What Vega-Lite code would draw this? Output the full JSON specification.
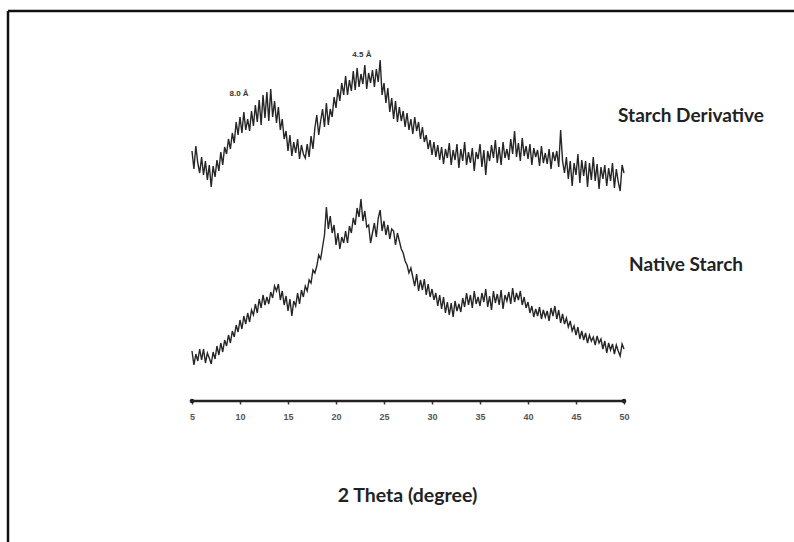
{
  "$schema": "https://vega.github.io/schema/vega-lite/v6.json",
  "width": 786,
  "height": 531,
  "autosize": {"type": "none"},
  "padding": {"left": 8, "top": 11, "right": 0, "bottom": 0},
  "background": "white",
  "config": {"view": {"stroke": null}, "font": "Lato"},
  "resolve": {"axis": {"x": "independent", "y": "independent"}},
  "datasets": {
    "xrd": [
      {"x":5.0,"d":250,"n":50},{"x":5.2,"d":232,"n":36},{"x":5.4,"d":255,"n":47},{"x":5.6,"d":238,"n":40},{"x":5.8,"d":228,"n":52},
      {"x":6.0,"d":244,"n":41},{"x":6.2,"d":226,"n":52},{"x":6.4,"d":240,"n":38},{"x":6.6,"d":221,"n":48},{"x":6.8,"d":236,"n":43},
      {"x":7.0,"d":214,"n":37},{"x":7.2,"d":235,"n":49},{"x":7.4,"d":224,"n":42},{"x":7.6,"d":241,"n":55},{"x":7.8,"d":230,"n":46},
      {"x":8.0,"d":249,"n":58},{"x":8.2,"d":236,"n":49},{"x":8.4,"d":254,"n":61},{"x":8.6,"d":247,"n":55},{"x":8.8,"d":262,"n":66},
      {"x":9.0,"d":252,"n":58},{"x":9.2,"d":268,"n":70},{"x":9.4,"d":258,"n":64},{"x":9.6,"d":279,"n":76},{"x":9.8,"d":266,"n":69},
      {"x":10.0,"d":284,"n":81},{"x":10.2,"d":268,"n":72},{"x":10.4,"d":289,"n":85},{"x":10.6,"d":271,"n":77},{"x":10.8,"d":282,"n":88},
      {"x":11.0,"d":270,"n":79},{"x":11.2,"d":290,"n":91},{"x":11.4,"d":275,"n":86},{"x":11.6,"d":296,"n":97},{"x":11.8,"d":279,"n":88},
      {"x":12.0,"d":301,"n":102},{"x":12.2,"d":276,"n":93},{"x":12.4,"d":306,"n":106},{"x":12.6,"d":283,"n":96},{"x":12.8,"d":309,"n":104},
      {"x":13.0,"d":280,"n":97},{"x":13.2,"d":312,"n":109},{"x":13.4,"d":284,"n":103},{"x":13.6,"d":300,"n":115},{"x":13.8,"d":278,"n":110},
      {"x":14.0,"d":294,"n":117},{"x":14.2,"d":271,"n":101},{"x":14.4,"d":282,"n":110},{"x":14.6,"d":262,"n":96},{"x":14.8,"d":270,"n":105},
      {"x":15.0,"d":250,"n":90},{"x":15.2,"d":266,"n":102},{"x":15.4,"d":245,"n":85},{"x":15.6,"d":259,"n":100},{"x":15.8,"d":248,"n":95},
      {"x":16.0,"d":262,"n":108},{"x":16.2,"d":242,"n":97},{"x":16.4,"d":256,"n":111},{"x":16.6,"d":247,"n":104},{"x":16.8,"d":243,"n":115},
      {"x":17.0,"d":257,"n":110},{"x":17.2,"d":244,"n":121},{"x":17.4,"d":265,"n":118},{"x":17.6,"d":252,"n":131},{"x":17.8,"d":273,"n":128},
      {"x":18.0,"d":286,"n":135},{"x":18.2,"d":266,"n":146},{"x":18.4,"d":280,"n":142},{"x":18.6,"d":292,"n":154},{"x":18.8,"d":274,"n":166},
      {"x":19.0,"d":298,"n":194},{"x":19.2,"d":276,"n":172},{"x":19.4,"d":292,"n":185},{"x":19.6,"d":284,"n":168},{"x":19.8,"d":304,"n":176},
      {"x":20.0,"d":293,"n":156},{"x":20.2,"d":312,"n":168},{"x":20.4,"d":300,"n":152},{"x":20.6,"d":318,"n":164},{"x":20.8,"d":306,"n":158},
      {"x":21.0,"d":325,"n":170},{"x":21.2,"d":306,"n":158},{"x":21.4,"d":321,"n":175},{"x":21.6,"d":310,"n":168},{"x":21.8,"d":330,"n":183},
      {"x":22.0,"d":311,"n":176},{"x":22.2,"d":333,"n":193},{"x":22.4,"d":314,"n":184},{"x":22.6,"d":327,"n":202},{"x":22.8,"d":317,"n":180},
      {"x":23.0,"d":336,"n":190},{"x":23.2,"d":312,"n":174},{"x":23.4,"d":328,"n":176},{"x":23.6,"d":318,"n":158},{"x":23.8,"d":331,"n":168},
      {"x":24.0,"d":314,"n":178},{"x":24.2,"d":332,"n":164},{"x":24.4,"d":319,"n":183},{"x":24.6,"d":341,"n":191},{"x":24.8,"d":306,"n":170},
      {"x":25.0,"d":318,"n":180},{"x":25.2,"d":298,"n":166},{"x":25.4,"d":313,"n":176},{"x":25.6,"d":289,"n":162},{"x":25.8,"d":303,"n":172},
      {"x":26.0,"d":282,"n":170},{"x":26.2,"d":300,"n":156},{"x":26.4,"d":279,"n":168},{"x":26.6,"d":294,"n":160},{"x":26.8,"d":280,"n":152},
      {"x":27.0,"d":290,"n":148},{"x":27.2,"d":274,"n":140},{"x":27.4,"d":288,"n":136},{"x":27.6,"d":271,"n":128},{"x":27.8,"d":282,"n":133},
      {"x":28.0,"d":267,"n":124},{"x":28.2,"d":284,"n":115},{"x":28.4,"d":270,"n":127},{"x":28.6,"d":279,"n":110},{"x":28.8,"d":262,"n":121},
      {"x":29.0,"d":274,"n":111},{"x":29.2,"d":259,"n":122},{"x":29.4,"d":266,"n":106},{"x":29.6,"d":252,"n":117},{"x":29.8,"d":261,"n":104},
      {"x":30.0,"d":246,"n":112},{"x":30.2,"d":259,"n":101},{"x":30.4,"d":244,"n":108},{"x":30.6,"d":256,"n":95},{"x":30.8,"d":241,"n":106},
      {"x":31.0,"d":254,"n":92},{"x":31.2,"d":237,"n":104},{"x":31.4,"d":252,"n":88},{"x":31.6,"d":243,"n":99},{"x":31.8,"d":258,"n":86},
      {"x":32.0,"d":236,"n":98},{"x":32.2,"d":251,"n":84},{"x":32.4,"d":241,"n":100},{"x":32.6,"d":257,"n":90},{"x":32.8,"d":233,"n":97},
      {"x":33.0,"d":252,"n":89},{"x":33.2,"d":240,"n":103},{"x":33.4,"d":259,"n":94},{"x":33.6,"d":236,"n":108},{"x":33.8,"d":249,"n":96},
      {"x":34.0,"d":238,"n":106},{"x":34.2,"d":253,"n":93},{"x":34.4,"d":230,"n":110},{"x":34.6,"d":249,"n":97},{"x":34.8,"d":242,"n":104},
      {"x":35.0,"d":257,"n":95},{"x":35.2,"d":234,"n":108},{"x":35.4,"d":251,"n":99},{"x":35.6,"d":226,"n":112},{"x":35.8,"d":250,"n":94},
      {"x":36.0,"d":240,"n":105},{"x":36.2,"d":256,"n":91},{"x":36.4,"d":243,"n":110},{"x":36.6,"d":261,"n":98},{"x":36.8,"d":238,"n":107},
      {"x":37.0,"d":254,"n":96},{"x":37.2,"d":236,"n":111},{"x":37.4,"d":259,"n":92},{"x":37.6,"d":243,"n":106},{"x":37.8,"d":252,"n":100},
      {"x":38.0,"d":241,"n":109},{"x":38.2,"d":262,"n":97},{"x":38.4,"d":247,"n":113},{"x":38.6,"d":270,"n":99},{"x":38.8,"d":244,"n":108},
      {"x":39.0,"d":258,"n":101},{"x":39.2,"d":240,"n":110},{"x":39.4,"d":263,"n":96},{"x":39.6,"d":245,"n":104},{"x":39.8,"d":255,"n":93},
      {"x":40.0,"d":242,"n":99},{"x":40.2,"d":257,"n":88},{"x":40.4,"d":236,"n":95},{"x":40.6,"d":253,"n":84},{"x":40.8,"d":244,"n":92},
      {"x":41.0,"d":251,"n":85},{"x":41.2,"d":235,"n":94},{"x":41.4,"d":255,"n":82},{"x":41.6,"d":238,"n":91},{"x":41.8,"d":248,"n":84},
      {"x":42.0,"d":237,"n":90},{"x":42.2,"d":252,"n":80},{"x":42.4,"d":232,"n":93},{"x":42.6,"d":249,"n":85},{"x":42.8,"d":240,"n":95},
      {"x":43.0,"d":250,"n":82},{"x":43.2,"d":234,"n":91},{"x":43.4,"d":271,"n":78},{"x":43.6,"d":240,"n":87},{"x":43.8,"d":228,"n":77},
      {"x":44.0,"d":244,"n":83},{"x":44.2,"d":222,"n":74},{"x":44.4,"d":240,"n":80},{"x":44.6,"d":215,"n":70},{"x":44.8,"d":238,"n":75},
      {"x":45.0,"d":226,"n":66},{"x":45.2,"d":247,"n":74},{"x":45.4,"d":218,"n":62},{"x":45.6,"d":241,"n":70},{"x":45.8,"d":225,"n":61},
      {"x":46.0,"d":240,"n":68},{"x":46.2,"d":214,"n":58},{"x":46.4,"d":238,"n":66},{"x":46.6,"d":221,"n":60},{"x":46.8,"d":244,"n":64},
      {"x":47.0,"d":220,"n":56},{"x":47.2,"d":237,"n":65},{"x":47.4,"d":212,"n":58},{"x":47.6,"d":234,"n":62},{"x":47.8,"d":222,"n":52},
      {"x":48.0,"d":236,"n":60},{"x":48.2,"d":215,"n":48},{"x":48.4,"d":233,"n":58},{"x":48.6,"d":220,"n":51},{"x":48.8,"d":238,"n":57},
      {"x":49.0,"d":213,"n":47},{"x":49.2,"d":232,"n":56},{"x":49.4,"d":219,"n":50},{"x":49.6,"d":210,"n":45},{"x":49.8,"d":236,"n":57},
      {"x":50.0,"d":228,"n":52}
    ],
    "axisline": [{"a": 5, "b": 50}],
    "ends": [{"x": 5}, {"x": 50}],
    "labels": [
      {"x": 56.98, "y": 285, "t": "Starch Derivative"},
      {"x": 56.46, "y": 136, "t": "Native Starch"}
    ],
    "notes": [
      {"x": 9.9, "y": 307, "t": "8.0 Å"},
      {"x": 22.7, "y": 346, "t": "4.5 Å"}
    ]
  },
  "layer": [
    {
      "data": {"name": "xrd"},
      "mark": {"type": "line", "stroke": "#262626", "strokeWidth": 1.4},
      "encoding": {
        "x": {
          "field": "x", "type": "quantitative",
          "scale": {"domain": [-14.1667, 67.7083], "nice": false, "zero": false},
          "axis": {
            "values": [5, 10, 15, 20, 25, 30, 35, 40, 45, 50],
            "offset": -141,
            "domain": false,
            "grid": false,
            "tickSize": 3,
            "tickWidth": 1.5,
            "tickColor": "#333",
            "labelPadding": 8,
            "labelFont": "Liberation Sans",
            "labelFontWeight": "bold",
            "labelFontSize": 9,
            "labelColor": "#555",
            "title": "2 Theta (degree)",
            "titleFont": "Lato",
            "titleFontSize": 19.5,
            "titleFontWeight": "bold",
            "titleColor": "#222",
            "titleX": 399,
            "titleY": 94,
            "titleAlign": "center",
            "titleBaseline": "middle"
          }
        },
        "y": {
          "field": "d", "type": "quantitative",
          "scale": {"domain": [-141, 390], "nice": false, "zero": false},
          "axis": null
        }
      }
    },
    {
      "data": {"name": "xrd"},
      "mark": {"type": "line", "stroke": "#262626", "strokeWidth": 1.4},
      "encoding": {
        "x": {"field": "x", "type": "quantitative", "axis": null},
        "y": {"field": "n", "type": "quantitative", "axis": null}
      }
    },
    {
      "data": {"name": "axisline"},
      "mark": {"type": "rule", "stroke": "#222", "strokeWidth": 2.5},
      "encoding": {
        "x": {"field": "a", "type": "quantitative", "axis": null},
        "x2": {"field": "b"},
        "y": {"datum": 0, "type": "quantitative", "axis": null}
      }
    },
    {
      "data": {"name": "ends"},
      "mark": {"type": "point", "filled": true, "color": "#222", "size": 22, "opacity": 1},
      "encoding": {
        "x": {"field": "x", "type": "quantitative", "axis": null},
        "y": {"datum": 0, "type": "quantitative", "axis": null}
      }
    },
    {
      "data": {"name": "labels"},
      "mark": {"type": "text", "font": "Lato", "fontSize": 19, "fontWeight": "bold", "color": "#222", "align": "center", "baseline": "middle"},
      "encoding": {
        "x": {"field": "x", "type": "quantitative", "axis": null},
        "y": {"field": "y", "type": "quantitative", "axis": null},
        "text": {"field": "t"}
      }
    },
    {
      "data": {"name": "notes"},
      "mark": {"type": "text", "font": "Liberation Sans", "fontSize": 8, "fontWeight": "bold", "color": "#333", "align": "center", "baseline": "middle"},
      "encoding": {
        "x": {"field": "x", "type": "quantitative", "axis": null},
        "y": {"field": "y", "type": "quantitative", "axis": null},
        "text": {"field": "t"}
      }
    },
    {
      "data": {"values": [{}]},
      "mark": {"type": "rule", "stroke": "#111", "strokeWidth": 2.5},
      "encoding": {
        "x": {"datum": -14.1667, "type": "quantitative", "axis": null}
      }
    },
    {
      "data": {"values": [{}]},
      "mark": {"type": "rule", "stroke": "#111", "strokeWidth": 2.5},
      "encoding": {
        "y": {"datum": 390, "type": "quantitative", "axis": null}
      }
    }
  ]
}
